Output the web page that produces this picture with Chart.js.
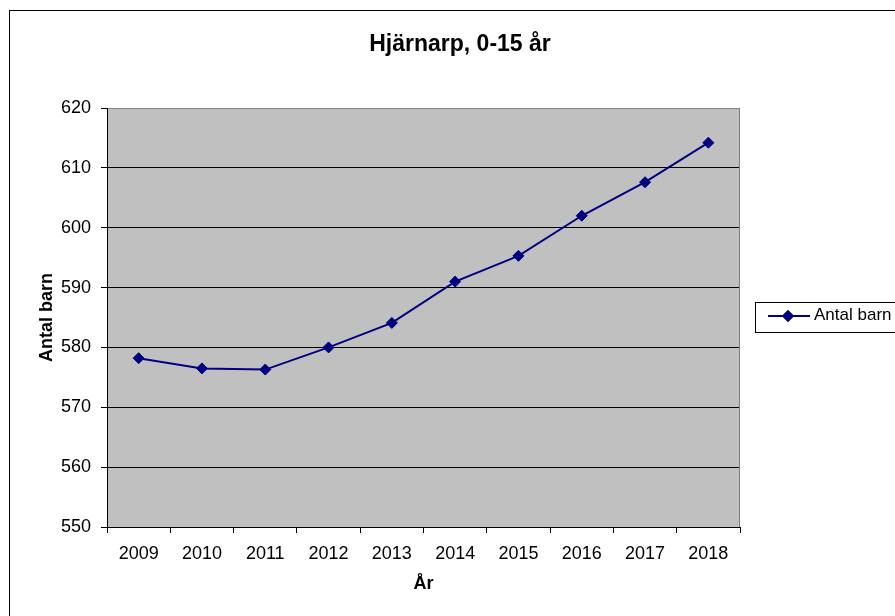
<!DOCTYPE html>
<html>
<head>
<meta charset="utf-8">
<script src="https://cdn.jsdelivr.net/npm/chart.js@4.4.1/dist/chart.umd.min.js"></script>
<style>
  html, body { margin: 0; padding: 0; background: #fff; }
  #wrap { width: 895px; height: 616px; }
</style>
</head>
<body>
<div id="wrap"><canvas id="chart" width="895" height="616"></canvas></div>
<script>
// ---------- Data ----------
const years     = ["2009", "2010", "2011", "2012", "2013", "2014", "2015", "2016", "2017", "2018"];
const antalBarn = [578.2, 576.5, 576.3, 580.0, 584.1, 591.0, 595.3, 602.0, 607.6, 614.2];
const yMin  = 550;
const yMax  = 620;
const yStep = 10;

const chartTitle  = "Hjärnarp, 0-15 år";
const seriesLabel = "Antal barn";
const xTitle      = "År";
const yTitle      = "Antal barn";

const FONT = "'Liberation Sans', Arial, sans-serif";
const NAVY = "#000080";

// ---------- Frame, plot background, title, legend ----------
const backdrop = {
    id: "backdrop",
    beforeDraw(chart) {
        const { ctx, chartArea: a } = chart;
        ctx.save();
        ctx.fillStyle = "#fff";
        ctx.fillRect(0, 0, chart.width, chart.height);
        ctx.strokeStyle = "#000";
        ctx.lineWidth = 1;
        ctx.strokeRect(9.5, 10.5, 1000, 1000);
        ctx.fillStyle = "#c0c0c0";
        ctx.fillRect(a.left, a.top, a.right - a.left, a.bottom - a.top);
        ctx.restore();
    },
    afterDraw(chart) {
        const { ctx, chartArea: a } = chart;
        ctx.save();
        // right edge of plot area
        ctx.strokeStyle = "#808080";
        ctx.lineWidth = 1;
        ctx.beginPath();
        ctx.moveTo(Math.round(a.right) - 0.5, a.top);
        ctx.lineTo(Math.round(a.right) - 0.5, a.bottom);
        ctx.stroke();

        // title
        ctx.fillStyle = "#000";
        ctx.font = "bold 23px " + FONT;
        ctx.textAlign = "center";
        ctx.textBaseline = "alphabetic";
        ctx.fillText(chartTitle, 460, 51);

        // legend box
        const ds = chart.data.datasets[0];
        ctx.fillStyle = "#fff";
        ctx.fillRect(755.5, 302.5, 200, 30);
        ctx.strokeStyle = "#000";
        ctx.lineWidth = 1;
        ctx.strokeRect(755.5, 302.5, 200, 30);
        ctx.strokeStyle = ds.borderColor;
        ctx.lineWidth = 2;
        ctx.beginPath();
        ctx.moveTo(768, 316);
        ctx.lineTo(810, 316);
        ctx.stroke();
        ctx.lineWidth = 1;
        Chart.helpers.drawPoint(ctx, {
            pointStyle: "rectRot", radius: 5.5, borderWidth: 1, rotation: 0
        }, 788, 316);
        ctx.fillStyle = ds.pointBackgroundColor;
        ctx.strokeStyle = ds.pointBorderColor;
        ctx.fill();
        ctx.stroke();
        ctx.fillStyle = "#000";
        ctx.font = "17px " + FONT;
        ctx.textAlign = "left";
        ctx.fillText(ds.label, 814, 320);
        ctx.restore();
    }
};

// ---------- Chart ----------
new Chart(document.getElementById("chart"), {
    type: "line",
    data: {
        labels: years,
        datasets: [{
            label: seriesLabel,
            data: antalBarn,
            borderColor: NAVY,
            borderWidth: 2,
            backgroundColor: NAVY,
            pointStyle: "rectRot",
            pointRadius: 5.5,
            pointBackgroundColor: NAVY,
            pointBorderColor: NAVY,
            pointBorderWidth: 1,
            fill: false,
            tension: 0
        }]
    },
    options: {
        responsive: false,
        animation: false,
        layout: { padding: { left: 36, right: 155, top: 108, bottom: 21 } },
        plugins: {
            legend: { display: false },
            title: { display: false },
            tooltip: { enabled: false }
        },
        scales: {
            x: {
                offset: true,
                grid: { offset: true, drawOnChartArea: false, drawTicks: true, tickLength: 6, tickColor: "#000" },
                border: { color: "#000", width: 1 },
                ticks: { color: "#000", font: { family: FONT, size: 18 }, padding: 10, maxRotation: 0 },
                title: { display: true, text: xTitle, color: "#000",
                         font: { family: FONT, size: 18, weight: "bold" }, padding: { top: 0, bottom: 0 } },
                afterFit: s => { s.height = 616 - 21 - 527; }
            },
            y: {
                min: yMin,
                max: yMax,
                ticks: { stepSize: yStep, color: "#000", font: { family: FONT, size: 18 }, padding: 10 },
                grid: {
                    color: c => (c.tick && c.tick.value === yMax) ? "#808080" : "#000",
                    tickColor: "#000",
                    tickLength: 6,
                    lineWidth: 1
                },
                border: { color: "#000", width: 1 },
                title: { display: true, text: yTitle, color: "#000",
                         font: { family: FONT, size: 18, weight: "bold" }, padding: { top: 0, bottom: 0 } },
                afterFit: s => { s.width = 107 - 36; }
            }
        }
    },
    plugins: [backdrop]
});
</script>
</body>
</html>
